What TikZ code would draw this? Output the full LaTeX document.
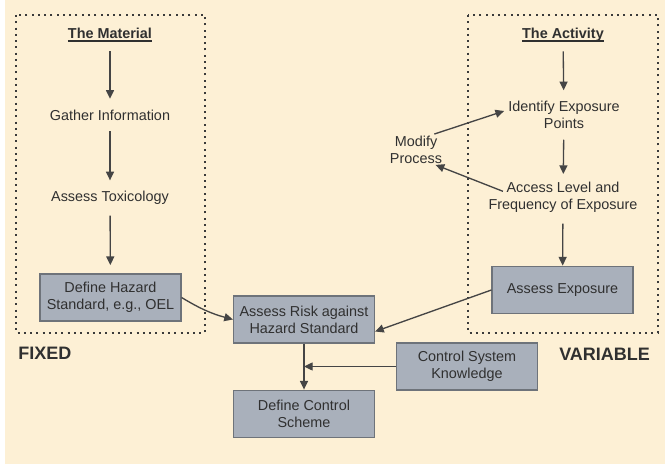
\documentclass[tikz,border=0pt]{standalone}
\usepackage{fontspec}
\setmainfont{Liberation Sans}
\usetikzlibrary{arrows.meta}
\definecolor{bgc}{HTML}{FDF0D5}
\definecolor{txtc}{HTML}{303030}
\definecolor{arrc}{HTML}{454545}
\definecolor{boxfill}{HTML}{A9B0BB}
\definecolor{boxline}{HTML}{6E737A}
\definecolor{dotc}{HTML}{3A3A3A}
\newcommand{\ulbf}[1]{\setbox0\hbox{#1}\leavevmode\rlap{\rule[-2.2pt]{\wd0}{0.9pt}}\box0}
\begin{document}
\begin{tikzpicture}[x=0.75pt,y=-0.75pt,
  txt/.style={text=txtc, font=\fontsize{10.8}{12.8}\selectfont, align=center, inner sep=0pt},
  ttl/.style={txt, font=\fontsize{10.8}{12.8}\selectfont\bfseries},
  lbl/.style={text=txtc, font=\fontsize{13.5}{15}\selectfont\bfseries, inner sep=0pt, anchor=west},
  box/.style={txt, draw=boxline, fill=boxfill, line width=1.1pt, minimum width=105.5pt, minimum height=35.5pt},
  arr/.style={draw=arrc, line width=1pt, -{Triangle[length=6.5pt,width=6pt]}},
  vgap/.style={shorten <=8pt, shorten >=8pt},
  dotbox/.style={draw=dotc, line width=1.5pt, dash pattern=on 1.5pt off 3.2pt}]
\useasboundingbox (0,0) rectangle (665,466);
\fill[bgc] (5,0) rectangle (665,464);
% dotted frames
\draw[dotbox] (16,15) rectangle (205,333);
\draw[dotbox] (468,15) rectangle (658,333);
% left column
\node[ttl] (mat) at (110,35) {\ulbf{The Material}};
\node[txt] (gather) at (110,115) {Gather Information};
\node[txt] (tox) at (110,198) {Assess Toxicology};
\node[box] (haz) at (110.5,297.5) {Define Hazard\\Standard, e.g., OEL};
% right column
\node[ttl] (act) at (563,35) {\ulbf{The Activity}};
\node[txt] (ident) at (564,115) {Identify Exposure\\Points};
\node[txt] (access) at (563,197.5) {Access Level and\\Frequency of Exposure};
\node[box] (expo) at (562.5,290) {Assess Exposure};
\node[txt] (modify) at (416,149.5) {Modify\\Process};
% centre
\node[box] (risk) at (304,319.5) {Assess Risk against\\Hazard Standard};
\node[box] (ctrl) at (304,414) {Define Control\\Scheme};
\node[box] (csk) at (467,366.5) {Control System\\Knowledge};
% labels
\node[lbl] (fixed) at (18,353) {FIXED};
\node[lbl] (var) at (559,354) {VARIABLE};
% arrows
\draw[arr,shorten <=7pt,shorten >=8pt] (mat) -- (gather);
\draw[arr,vgap] (gather) -- (tox);
\draw[arr,shorten <=8pt,shorten >=6pt] (tox) -- (haz);
\draw[arr,shorten <=7pt,shorten >=8pt] (act) -- (ident);
\draw[arr,shorten <=8pt,shorten >=6pt] (ident) -- (access);
\draw[arr,shorten <=8pt,shorten >=0pt] (access) -- (expo);
\draw[arr] ([xshift=-6pt,yshift=1pt]modify.north east) -- ([xshift=-3pt,yshift=3pt]ident.west);
\draw[arr] ([xshift=11pt,yshift=-7pt]access.north west) -- ([xshift=-5pt,yshift=-1pt]modify.south east);
\draw[arr] (haz.east) to[bend right=8] (risk.west);
\draw[arr] (expo.west) -- ([yshift=-9pt]risk.east);
\draw[arr] (risk) -- (ctrl);
\draw[arr] (csk.west) -- (risk.south |- csk.west);
\end{tikzpicture}
\end{document}
